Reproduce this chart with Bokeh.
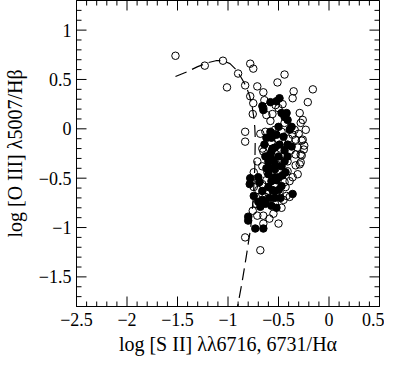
from bokeh.plotting import figure
from bokeh.models import SingleIntervalTicker, Range1d
from bokeh.embed import file_html
from bokeh.resources import INLINE

# ---- axes ----
x_lim = [-2.5, 0.5]
y_lim = [-1.8, 1.3]
x_ticks = [-2.5, -2, -1.5, -1, -0.5, 0, 0.5]
x_tick_labels = ["−2.5", "−2", "−1.5", "−1", "−0.5", "0", "0.5"]
y_ticks = [-1.5, -1, -0.5, 0, 0.5, 1]
y_tick_labels = ["−1.5", "−1", "−0.5", "0", "0.5", "1"]
minor_step = 0.1

# ---- dashed model curve ----
curve_x = [-1.52, -1.40, -1.30, -1.20, -1.12, -1.05, -0.98, -0.92, -0.87, -0.82, -0.785,
           -0.76, -0.745, -0.735, -0.73, -0.735, -0.75, -0.775, -0.82, -0.86, -0.905]
curve_y = [0.53, 0.58, 0.63, 0.67, 0.69, 0.69, 0.66, 0.60, 0.52, 0.43, 0.33,
           0.22, 0.12, 0.02, -0.10, -0.40, -0.70, -1.00, -1.30, -1.55, -1.80]

# ---- open circles ----
open_x = [-1.52, -1.23, -1.05, -1.01, -0.90, -0.78, -0.75, -0.83, -0.71, -0.65,
          -0.78, -0.75, -0.755, -0.44, -0.51, -0.35, -0.36, -0.16, -0.21, -0.29,
          -0.26, -0.28, -0.65, -0.62, -0.56, -0.50, -0.53, -0.44, -0.63, -0.535,
          -0.57, -0.47, -0.50, -0.36, -0.33, -0.26, -0.23, -0.34, -0.31, -0.245,
          -0.33, -0.28, -0.44, -0.65, -0.60, -0.41, -0.29, -0.33, -0.41, -0.83,
          -0.83, -0.66, -0.58, -0.66, -0.745, -0.66, -0.63, -0.66, -0.57, -0.535,
          -0.755, -0.65, -0.71, -0.55, -0.50, -0.65, -0.83, -0.68, -0.42, -0.39,
          -0.44, -0.39, -0.28, -0.31, -0.745, -0.71, -0.49, -0.27, -0.27, -0.64,
          -0.46, -0.52, -0.62, -0.70, -0.45, -0.30, -0.38, -0.25, -0.68, -0.58,
          -0.48, -0.40, -0.61, -0.54, -0.36, -0.72, -0.43, -0.59, -0.47, -0.55]
open_y = [0.74, 0.64, 0.69, 0.42, 0.56, 0.66, 0.61, 0.44, 0.43, 0.37,
          0.33, 0.26, 0.15, 0.55, 0.47, 0.38, 0.31, 0.40, 0.27, 0.16,
          0.09, 0.06, 0.21, 0.14, 0.15, 0.21, 0.24, 0.06, -0.03, -0.01,
          -0.14, -0.03, -0.11, -0.06, -0.11, -0.11, -0.01, -0.01, -0.19, -0.17,
          -0.26, -0.26, -0.26, -0.23, -0.29, -0.33, -0.36, -0.37, -0.43, -0.03,
          -0.13, -0.20, -0.28, -0.38, -0.44, -0.56, -0.69, -0.66, -0.69, -0.76,
          -0.83, -0.88, -0.88, -0.86, -0.96, -0.96, -1.10, -1.23, -0.68, -0.69,
          -0.54, -0.53, -0.34, -0.46, -0.59, -0.33, -0.64, -0.27, -0.12, 0.29,
          0.25, -0.36, -0.52, -0.62, -0.72, -0.05, -0.22, -0.21, -0.05, 0.08,
          -0.20, -0.10, -0.44, -0.57, -0.49, -0.76, -0.59, -0.91, -0.80, -0.05]

# ---- filled circles ----
fill_x = [-0.58, -0.49, -0.52, -0.66, -0.47, -0.44, -0.41, -0.50, -0.37, -0.39,
          -0.52, -0.45, -0.57, -0.49, -0.535, -0.41, -0.58, -0.50, -0.47, -0.535,
          -0.62, -0.58, -0.63, -0.70, -0.69, -0.78, -0.785, -0.60, -0.57, -0.50,
          -0.47, -0.60, -0.66, -0.535, -0.745, -0.70, -0.63, -0.57, -0.52, -0.68,
          -0.36, -0.80, -0.80, -0.73, -0.65, -0.60, -0.535, -0.41, -0.44, -0.56,
          -0.55, -0.58, -0.52, -0.56, -0.59, -0.54, -0.62, -0.44, -0.46, -0.64,
          -0.48, -0.66, -0.57, -0.50, -0.43, -0.42, -0.37, -0.535, -0.65]
fill_y = [0.27, 0.31, 0.28, 0.23, 0.16, 0.12, 0.09, 0.02, 0.02, -0.01,
          -0.06, -0.08, -0.09, -0.16, -0.19, -0.16, -0.26, -0.28, -0.38, -0.41,
          -0.09, -0.03, -0.28, -0.49, -0.54, -0.50, -0.56, -0.46, -0.53, -0.49,
          -0.58, -0.59, -0.63, -0.63, -0.68, -0.74, -0.76, -0.78, -0.80, -0.79,
          -0.66, -0.89, -0.93, -1.01, -1.01, -0.33, -0.36, -0.28, -0.33, -0.20,
          -0.32, -0.40, -0.52, -0.62, -0.70, -0.70, -0.40, -0.22, -0.47, -0.16,
          -0.70, -0.72, -0.23, -0.62, -0.44, 0.16, -0.18, -0.49, 0.19]

FONT = "Liberation Serif"

p = figure(width=384, height=357, output_backend="svg", toolbar_location=None,
           x_range=Range1d(*x_lim), y_range=Range1d(*y_lim),
           min_border_left=69, min_border_right=5, min_border_top=0, min_border_bottom=50)
p.background_fill_color = "white"
p.border_fill_color = "white"
p.outline_line_color = "black"
p.outline_line_width = 1
p.xgrid.visible = False
p.ygrid.visible = False

xa = p.xaxis[0]
ya = p.yaxis[0]
for ax, ticks, labels in ((xa, x_ticks, x_tick_labels), (ya, y_ticks, y_tick_labels)):
    ax.ticker = SingleIntervalTicker(interval=0.5, num_minor_ticks=5)
    ax.major_tick_in = 0
    ax.major_tick_out = 0
    ax.minor_tick_in = 0
    ax.minor_tick_out = 0
    ax.axis_line_color = "black"
    ax.major_label_overrides = {t: l for t, l in zip(ticks, labels)}
    ax.major_label_text_font = FONT
    ax.major_label_text_font_size = "18px"
    ax.major_label_text_color = "black"
    ax.axis_label_text_font = FONT
    ax.axis_label_text_font_size = "20px"
    ax.axis_label_text_font_style = "normal"
    ax.axis_label_text_color = "black"
xa.major_label_standoff = 6
ya.major_label_standoff = 5
xa.axis_label = "log [S II] λλ6716, 6731/Hα"
ya.axis_label = "log [O III] λ5007/Hβ"
xa.axis_label_standoff = 4
ya.axis_label_standoff = 10

# ---- inward tick marks on all four sides (half of each dash is clipped by the frame) ----
def minor_of(lo, hi, majors):
    n = int(round((hi - lo) / minor_step))
    vals = [round(lo + k * minor_step, 2) for k in range(n + 1)]
    return [v for v in vals if all(abs(v - m) > 1e-6 for m in majors)]

x_minor = minor_of(x_lim[0], x_lim[1], x_ticks)
y_minor = minor_of(y_lim[0], y_lim[1], y_ticks)

for xs, sz in ((x_ticks, 20), (x_minor, 10)):
    for edge in y_lim:
        p.scatter(xs, [edge] * len(xs), marker="dash", size=sz, angle=90, angle_units="deg",
                  line_color="black", line_width=1)
for ys, sz in ((y_ticks, 20), (y_minor, 10)):
    for edge in x_lim:
        p.scatter([edge] * len(ys), ys, marker="dash", size=sz,
                  line_color="black", line_width=1)

p.line(curve_x, curve_y, line_color="black", line_width=1.2, line_dash="12 6")
p.scatter(open_x, open_y, marker="circle", size=7.5, fill_color=None,
          line_color="black", line_width=1)
p.scatter(fill_x, fill_y, marker="circle", size=7.5, fill_color="black",
          line_color="black", line_width=1)

open("out.html", "w").write(file_html(p, INLINE))
